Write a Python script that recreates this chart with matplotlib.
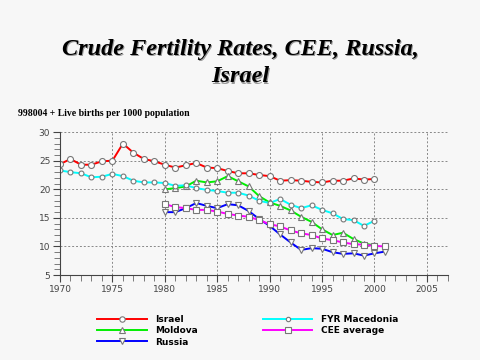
import numpy as np
import matplotlib
matplotlib.use('Agg')
import matplotlib.pyplot as plt
from matplotlib.ticker import MultipleLocator

# data
years_long = list(range(1970, 2001))
israel = [24.4, 25.3, 24.3, 24.3, 24.9, 25.0, 28.0, 26.4, 25.3, 24.9,
          24.3, 23.8, 24.2, 24.6, 23.8, 23.7, 23.2, 22.8, 22.8, 22.5,
          22.3, 21.5, 21.6, 21.5, 21.3, 21.2, 21.5, 21.5, 21.9, 21.7, 21.8]
macedonia = [23.3, 23.0, 22.8, 22.1, 22.2, 22.7, 22.3, 21.5, 21.2, 21.2,
             21.1, 20.6, 20.7, 20.2, 19.9, 19.7, 19.4, 19.4, 18.9, 18.0,
             17.6, 18.3, 17.3, 16.7, 17.2, 16.4, 15.8, 14.8, 14.6, 13.6, 14.5]
years_md = list(range(1980, 2001))
moldova = [20.0, 20.2, 20.5, 21.5, 21.2, 21.4, 22.3, 21.4, 20.5, 18.8,
           17.7, 17.1, 16.3, 15.2, 14.3, 13.0, 12.0, 12.4, 11.3, 10.5, 10.2]
years_short = list(range(1980, 2002))
russia = [16.0, 16.0, 16.7, 17.6, 17.1, 16.7, 17.4, 17.2, 16.2, 14.8,
          13.6, 12.1, 10.7, 9.4, 9.7, 9.6, 9.0, 8.7, 8.8, 8.4, 8.8, 9.1]
cee = [17.4, 16.9, 16.7, 16.4, 16.4, 16.1, 15.7, 15.4, 15.2, 14.6,
       13.9, 13.5, 12.8, 12.3, 12.0, 11.4, 11.1, 10.7, 10.4, 10.3, 10.1, 10.0]

bg = '#f7f7f7'
fig = plt.figure(figsize=(4.8, 3.6), dpi=100, facecolor=bg)
ax = fig.add_axes([0.125, 0.236, 0.808, 0.397], facecolor=bg)

mk = dict(markerfacecolor='white', markeredgecolor='#777777', markeredgewidth=0.8)
l1, = ax.plot(years_long, israel, color='#ff0000', lw=1.4, marker='o', ms=4.3, label='Israel', **mk)
l2, = ax.plot(years_md, moldova, color='#00ee00', lw=1.4, marker='^', ms=4.6, label='Moldova', **mk)
l3, = ax.plot(years_short, russia, color='#0000ff', lw=1.4, marker='v', ms=4.6, label='Russia', **mk)
l4, = ax.plot(years_long, macedonia, color='#00ffff', lw=1.4, marker='o', ms=3.5, label='FYR Macedonia', **mk)
l5, = ax.plot(years_short, cee, color='#ff00ff', lw=1.4, marker='s', ms=4.3, label='CEE average', **mk)

ax.set_xlim(1970, 2007)
ax.set_ylim(5, 30)
ax.xaxis.set_major_locator(MultipleLocator(5))
ax.xaxis.set_minor_locator(MultipleLocator(1))
ax.yaxis.set_major_locator(MultipleLocator(5))
ax.yaxis.set_minor_locator(MultipleLocator(1))
ax.grid(True, which='major', linestyle=(0, (2, 2)), color='#888888', lw=0.7)
for s in ['top', 'right']:
    ax.spines[s].set_visible(False)
for s in ['left', 'bottom']:
    ax.spines[s].set_color('#444444')
ax.tick_params(which='major', length=5, color='#444444', labelsize=6.5, labelcolor='#444444', pad=2)
ax.tick_params(which='minor', length=4, color='#666666')

# title with a grey drop shadow
title = 'Crude Fertility Rates, CEE, Russia,\nIsrael'
tkw = dict(ha='center', va='center', fontsize=17.5, fontweight='bold', fontstyle='italic',
           family='Liberation Serif', linespacing=1.4)
fig.text(0.5 + 1.5 / 480, 0.825 - 1.5 / 360, title, color='#999999', **tkw)
fig.text(0.5, 0.825, title, color='black', **tkw)
fig.text(0.037, 0.686, '998004 + Live births per 1000 population', ha='left', va='center',
         fontsize=7, fontweight='bold', family='Liberation Serif')

fig.legend(handles=[l1, l2, l3, l4, l5], loc='upper left', bbox_to_anchor=(0.195, 0.135),
           ncol=2, frameon=False, prop={'weight': 'bold', 'size': 6.5},
           handlelength=5.5, columnspacing=7.2, labelspacing=0.25, markerscale=0.9,
           handletextpad=0.9, borderaxespad=0)

fig.savefig('out.png', dpi=100, facecolor=bg)
